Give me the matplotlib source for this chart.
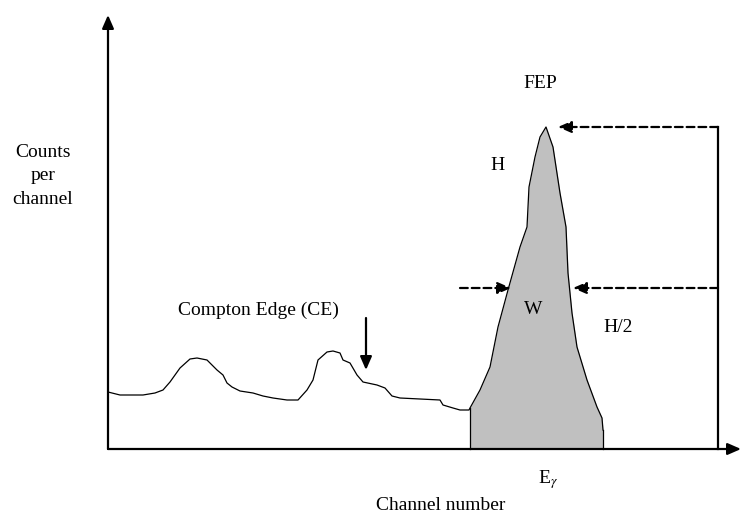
import matplotlib
matplotlib.use("Agg")
import matplotlib.pyplot as plt

plt.rcParams["font.family"] = ["Liberation Serif", "DejaVu Serif"]
plt.rcParams["mathtext.fontset"] = "stix"

OUT = "out.png"

INK = "black"
PEAK_FILL = "#c0c0c0"

# gamma spectrum: background continuum with two Compton bumps, then the full-energy peak
channel = [0, 12, 35, 47, 55, 62, 72, 82, 89, 99, 109, 115, 119, 124, 132, 145,
           155, 165, 179, 190, 199, 205, 210, 219, 225, 232, 235, 242, 249, 255,
           269, 277, 284, 292, 312, 332, 335, 345, 352, 361,
           362, 372, 382, 390, 400, 412, 419, 421, 427, 432, 438, 445, 452, 458,
           460, 464, 469, 479, 489, 494, 495]
counts = [57, 54, 54, 56, 59, 67, 81, 90, 91, 89, 79, 74, 66, 62, 58, 56,
          53, 51, 49, 49, 59, 69, 89, 97, 98, 96, 89, 86, 74, 67,
          64, 61, 53, 51, 50, 49, 44, 41, 39, 39,
          41, 59, 82, 122, 159, 202, 222, 262, 292, 312, 322, 302, 256, 222,
          176, 136, 102, 69, 42, 31, 19]

PEAK_START = 362       # first channel of the shaded full-energy peak
PEAK_END = 495         # last channel of the shaded peak
MARKER_CH = 610        # channel of the vertical guide line on the right
CE_CH = 258            # Compton edge marker
X_MAX, Y_MAX = 633, 434


def arrow(ax, start, end, dashed=False):
    ax.annotate("", xy=end, xytext=start,
                arrowprops=dict(arrowstyle="-|>,head_length=0.8,head_width=0.35",
                                lw=1.6, color=INK, shrinkA=0, shrinkB=0,
                                linestyle=(0, (3.5, 1.8)) if dashed else "-"))


def main():
    fig = plt.figure(figsize=(7.41, 5.22), dpi=100)
    ax = fig.add_axes([0, 0, 1, 1])
    ax.set_xlim(-108, 633)
    ax.set_ylim(-73, 449)
    ax.axis("off")

    peak_h = max(counts)
    half_h = peak_h / 2

    # shaded full-energy peak
    pk = [(c, n) for c, n in zip(channel, counts) if c >= PEAK_START]
    pc = [p[0] for p in pk]
    pn = [p[1] for p in pk]
    ax.fill_between(pc, 0, pn, color=PEAK_FILL, lw=0)
    ax.plot(channel, counts, color=INK, lw=0.9)
    ax.plot([PEAK_START, PEAK_START], [0, pn[0]], color=INK, lw=0.9)
    ax.plot([PEAK_END, PEAK_END], [0, pn[-1]], color=INK, lw=0.9)

    # axes with arrow heads
    arrow(ax, (0, 0), (0, Y_MAX))
    arrow(ax, (0, 0), (X_MAX, 0))

    # height and half-height guides
    ax.plot([MARKER_CH, MARKER_CH], [0, peak_h], color=INK, lw=1.6)
    arrow(ax, (MARKER_CH, peak_h), (450, peak_h), dashed=True)
    arrow(ax, (MARKER_CH, half_h), (465, half_h), dashed=True)
    arrow(ax, (352, half_h), (403, half_h), dashed=True)

    # Compton edge marker
    arrow(ax, (CE_CH, 131), (CE_CH, 79))

    fs = 14
    ax.text(432, 366, "FEP", ha="center", va="center", fontsize=fs)
    ax.text(390, 284, "H", ha="center", va="center", fontsize=fs)
    ax.text(425, 139, "W", ha="center", va="center", fontsize=fs)
    ax.text(510, 122, "H/2", ha="center", va="center", fontsize=fs)
    ax.text(150, 139, "Compton Edge (CE)", ha="center", va="center", fontsize=fs)
    ax.text(-65, 273, "Counts\nper\nchannel", ha="center", va="center",
            fontsize=fs, linespacing=1.5)
    ax.text(440, -31, r"E$_{\gamma}$", ha="center", va="center", fontsize=fs)
    ax.text(333, -56, "Channel number", ha="center", va="center", fontsize=fs)

    fig.savefig(OUT, dpi=100)
    plt.close(fig)


if __name__ == "__main__":
    main()
